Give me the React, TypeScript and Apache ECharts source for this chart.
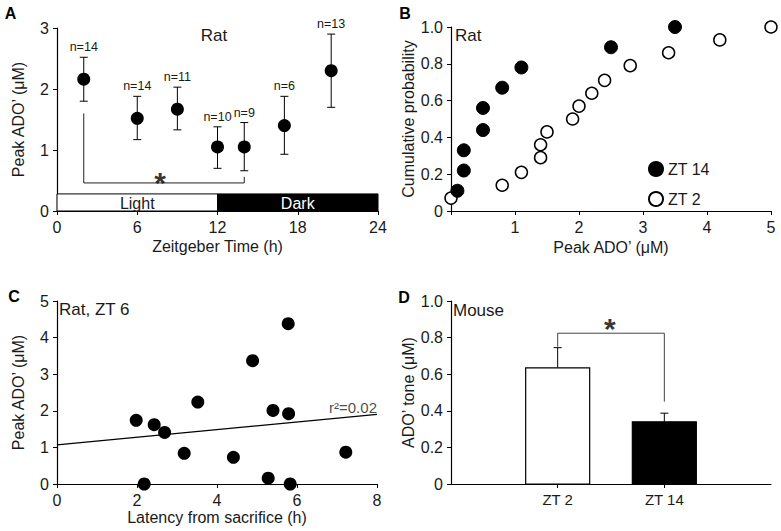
import React, { useEffect, useRef } from "react";
import * as echarts from "echarts";

// ---------- Panel A data ----------
const ztA = [2, 6, 9, 12, 14, 17, 20.5];
const peakA = [2.16, 1.52, 1.67, 1.05, 1.05, 1.4, 2.3];
const errLowA = [1.8, 1.17, 1.33, 0.7, 0.66, 0.93, 1.7];
const errHighA = [2.52, 1.88, 2.03, 1.38, 1.45, 1.88, 2.9];
const nLabelsA = ["n=14", "n=14", "n=11", "n=10", "n=9", "n=6", "n=13"];
const lightDarkStart = [0, 12];
const lightDarkEnd = [12, 24];
const lightDarkLabels = ["Light", "Dark"];
const lightDarkTop = 0.28;
const bracketA = [[2, 1.6], [2, 0.46], [14, 0.46], [14, 0.56]];
const starA = [[7.7, 0.56]];

// ---------- Panel B data ----------
const zt14X = [0.1, 0.2, 0.2, 0.5, 0.5, 0.8, 1.1, 2.5, 3.5];
const zt14Y = [0.11, 0.22, 0.33, 0.44, 0.56, 0.67, 0.78, 0.89, 1.0];
const zt2X = [0, 0.8, 1.1, 1.4, 1.4, 1.5, 1.9, 2.0, 2.2, 2.4, 2.8, 3.4, 4.2, 5.0];
const zt2Y = [0.07, 0.14, 0.21, 0.29, 0.36, 0.43, 0.5, 0.57, 0.64, 0.71, 0.79, 0.86, 0.93, 1.0];

// ---------- Panel C data ----------
const latencyC = [1.98, 2.18, 2.43, 2.69, 3.18, 3.52, 4.41, 4.89, 5.28, 5.4, 5.78, 5.79, 5.83, 7.22];
const peakC = [1.74, 0, 1.62, 1.41, 0.84, 2.24, 0.73, 3.37, 0.16, 2.01, 4.38, 1.92, 0, 0.87];
const fitC = [[0, 1.07], [8, 1.9]];
const r2Label = "r²=0.02";
const r2Pos = [[7.4, 2.1]];

// ---------- Panel D data ----------
const catsD = ["ZT 2", "ZT 14"];
const posD = [1, 2];
const meanD = [0.635, 0.34];
const semTopD = [0.745, 0.387];
const bracketD = [[1, 0.75], [1, 0.824], [2, 0.824], [2, 0.45]];
const starD = [[1.49, 0.885]];

const FONT = "'Liberation Sans', Arial, Helvetica, sans-serif";
const BLACK = "#000";
const TXT = "#1a1a1a";
const TICK_FS = 16;

function axisCommon(extra: any) {
  return {
    axisLine: { show: true, lineStyle: { color: BLACK, width: 1.2 } },
    axisTick: { show: true, length: 4, lineStyle: { color: BLACK, width: 1 } },
    splitLine: { show: false },
    axisLabel: { color: TXT, fontSize: TICK_FS, fontFamily: FONT },
    nameLocation: "middle",
    nameTextStyle: { color: TXT, fontSize: 16, fontFamily: FONT },
    ...extra,
  };
}

export default function App() {
  const ref = useRef<HTMLDivElement>(null);
  useEffect(() => {
    if (!ref.current) return;
    const chart = echarts.init(ref.current, null, { renderer: "svg" });

    const option: any = {
      animation: false,
      backgroundColor: "#fff",
      textStyle: { fontFamily: FONT },
      grid: [
        { left: 57, top: 28, width: 321, height: 183 },
        { left: 451, top: 27, width: 320, height: 184 },
        { left: 57, top: 301, width: 320, height: 183 },
        { left: 451, top: 301, width: 320, height: 183 },
      ],
      xAxis: [
        axisCommon({ gridIndex: 0, type: "value", min: 0, max: 24, interval: 6, name: "Zeitgeber Time (h)", nameGap: 27 }),
        axisCommon({
          gridIndex: 1, type: "value", min: 0, max: 5, interval: 1, name: "Peak ADO’ (μM)", nameGap: 28,
          axisLabel: { color: TXT, fontSize: TICK_FS, fontFamily: FONT, formatter: (v: number) => (v === 0 ? "" : String(v)) },
        }),
        axisCommon({ gridIndex: 2, type: "value", min: 0, max: 8, interval: 2, name: "Latency from sacrifice (h)", nameGap: 25 }),
        axisCommon({
          gridIndex: 3, type: "value", min: 0, max: 3, interval: 1,
          axisTick: { show: true, length: 4, lineStyle: { color: BLACK, width: 1 }, customValues: posD },
          axisLabel: {
            color: TXT, fontSize: 15, fontFamily: FONT, customValues: posD,
            formatter: (v: number) => { const i = posD.indexOf(v); return i >= 0 ? catsD[i] : ""; },
          },
        }),
      ],
      yAxis: [
        axisCommon({ gridIndex: 0, type: "value", min: 0, max: 3, interval: 1, name: "Peak ADO’ (μM)", nameGap: 31 }),
        axisCommon({
          gridIndex: 1, type: "value", min: 0, max: 1, interval: 0.2, name: "Cumulative probability", nameGap: 31,
          axisLabel: { color: TXT, fontSize: TICK_FS, fontFamily: FONT, formatter: (v: number) => (v === 0 ? "0" : v.toFixed(1)) },
        }),
        axisCommon({ gridIndex: 2, type: "value", min: 0, max: 5, interval: 1, name: "Peak ADO’ (μM)", nameGap: 31 }),
        axisCommon({
          gridIndex: 3, type: "value", min: 0, max: 1, interval: 0.2, name: "ADO’ tone (μM)", nameGap: 35,
          axisLabel: { color: TXT, fontSize: TICK_FS, fontFamily: FONT, formatter: (v: number) => (v === 0 ? "0" : v.toFixed(1)) },
        }),
      ],
      legend: {
        data: ["ZT 14", "ZT 2"],
        orient: "vertical",
        left: 648,
        top: 161,
        itemWidth: 14,
        itemHeight: 14,
        itemGap: 14,
        padding: 0,
        icon: "circle",
        textStyle: { color: TXT, fontSize: 16, fontFamily: FONT },
      },
      series: [
        // ----- Panel A -----
        {
          type: "custom",
          xAxisIndex: 0,
          yAxisIndex: 0,
          data: lightDarkStart.map((s, i) => [s, lightDarkEnd[i], lightDarkTop]),
          encode: { x: [0, 1], y: 2 },
          renderItem: (params: any, api: any) => {
            const p1 = api.coord([api.value(0), api.value(2)]);
            const p2 = api.coord([api.value(1), 0]);
            const dark = params.dataIndex === 1;
            return {
              type: "group",
              children: [
                {
                  type: "rect",
                  shape: { x: p1[0], y: p1[1], width: p2[0] - p1[0], height: p2[1] - p1[1] },
                  style: { fill: dark ? "#000" : "#fff", stroke: "#000", lineWidth: 1 },
                },
                {
                  type: "text",
                  x: (p1[0] + p2[0]) / 2,
                  y: (p1[1] + p2[1]) / 2 + 1,
                  style: {
                    text: lightDarkLabels[params.dataIndex],
                    align: "center",
                    verticalAlign: "middle",
                    fontSize: 16,
                    fontFamily: FONT,
                    fill: dark ? "#fff" : TXT,
                  },
                },
              ],
            };
          },
          z: 1,
        },
        {
          type: "line",
          xAxisIndex: 0,
          yAxisIndex: 0,
          data: bracketA,
          symbol: "none",
          lineStyle: { color: "#222", width: 1 },
          z: 2,
        },
        {
          type: "custom",
          xAxisIndex: 0,
          yAxisIndex: 0,
          data: ztA.map((x, i) => [x, errLowA[i], errHighA[i]]),
          encode: { x: 0, y: [1, 2] },
          renderItem: (params: any, api: any) => {
            const x = api.value(0);
            const lo = api.coord([x, api.value(1)]);
            const hi = api.coord([x, api.value(2)]);
            const c = 4;
            const st = { stroke: "#000", lineWidth: 1 };
            return {
              type: "group",
              children: [
                { type: "line", shape: { x1: lo[0], y1: lo[1], x2: hi[0], y2: hi[1] }, style: st },
                { type: "line", shape: { x1: lo[0] - c, y1: lo[1], x2: lo[0] + c, y2: lo[1] }, style: st },
                { type: "line", shape: { x1: hi[0] - c, y1: hi[1], x2: hi[0] + c, y2: hi[1] }, style: st },
                {
                  type: "text",
                  x: hi[0],
                  y: hi[1] - 10,
                  style: {
                    text: nLabelsA[params.dataIndex],
                    align: "center",
                    verticalAlign: "middle",
                    fontSize: 12.5,
                    fontFamily: FONT,
                    fill: TXT,
                  },
                },
              ],
            };
          },
          z: 3,
        },
        {
          type: "scatter",
          xAxisIndex: 0,
          yAxisIndex: 0,
          data: ztA.map((x, i) => [x, peakA[i]]),
          symbolSize: 13,
          itemStyle: { color: "#000", opacity: 1 },
          z: 4,
        },
        {
          type: "scatter",
          xAxisIndex: 0,
          yAxisIndex: 0,
          data: starA,
          symbolSize: 0,
          label: { show: true, position: "inside", formatter: "*", fontSize: 30, fontWeight: "bold", color: "#000", offset: [0, 6] },
          z: 4,
        },
        // ----- Panel B -----
        {
          name: "ZT 14",
          type: "scatter",
          xAxisIndex: 1,
          yAxisIndex: 1,
          data: zt14X.map((x, i) => [x, zt14Y[i]]),
          symbolSize: 13,
          clip: false,
          itemStyle: { color: "#000", borderColor: "#000", borderWidth: 1, opacity: 1 },
          z: 5,
        },
        {
          name: "ZT 2",
          type: "scatter",
          xAxisIndex: 1,
          yAxisIndex: 1,
          data: zt2X.map((x, i) => [x, zt2Y[i]]),
          symbolSize: 12,
          clip: false,
          itemStyle: { color: "#fff", borderColor: "#000", borderWidth: 1.5, opacity: 1 },
          z: 4,
        },
        // ----- Panel C -----
        {
          type: "line",
          xAxisIndex: 2,
          yAxisIndex: 2,
          data: fitC,
          symbol: "none",
          lineStyle: { color: "#000", width: 1.2 },
          z: 2,
        },
        {
          type: "scatter",
          xAxisIndex: 2,
          yAxisIndex: 2,
          data: latencyC.map((x, i) => [x, peakC[i]]),
          symbolSize: 13,
          clip: false,
          itemStyle: { color: "#000", opacity: 1 },
          z: 4,
        },
        {
          type: "scatter",
          xAxisIndex: 2,
          yAxisIndex: 2,
          data: r2Pos,
          symbolSize: 0,
          label: { show: true, position: "inside", formatter: r2Label, fontSize: 15, color: TXT, fontFamily: FONT },
          z: 4,
        },
        // ----- Panel D -----
        {
          type: "custom",
          xAxisIndex: 3,
          yAxisIndex: 3,
          data: posD.map((x, i) => [x, meanD[i], semTopD[i]]),
          encode: { x: 0, y: [1, 2] },
          renderItem: (params: any, api: any) => {
            const x = api.value(0);
            const top = api.coord([x - 0.3, api.value(1)]);
            const bot = api.coord([x + 0.3, 0]);
            const mid = api.coord([x, api.value(1)]);
            const err = api.coord([x, api.value(2)]);
            const filled = params.dataIndex === 1;
            const c = 4;
            const st = { stroke: "#000", lineWidth: 1 };
            return {
              type: "group",
              children: [
                { type: "line", shape: { x1: mid[0], y1: mid[1], x2: err[0], y2: err[1] }, style: st },
                { type: "line", shape: { x1: err[0] - c, y1: err[1], x2: err[0] + c, y2: err[1] }, style: st },
                {
                  type: "rect",
                  shape: { x: top[0], y: top[1], width: bot[0] - top[0], height: bot[1] - top[1] },
                  style: { fill: filled ? "#000" : "#fff", stroke: "#000", lineWidth: 1.2 },
                },
              ],
            };
          },
          z: 3,
        },
        {
          type: "line",
          xAxisIndex: 3,
          yAxisIndex: 3,
          data: bracketD,
          symbol: "none",
          lineStyle: { color: "#444", width: 1 },
          z: 2,
        },
        {
          type: "scatter",
          xAxisIndex: 3,
          yAxisIndex: 3,
          data: starD,
          symbolSize: 0,
          label: { show: true, position: "inside", formatter: "*", fontSize: 30, fontWeight: "bold", color: "#000", offset: [0, 6] },
          z: 4,
        },
      ],
      graphic: [
        { type: "text", x: 10.5, y: 13, style: { text: "A", align: "center", verticalAlign: "middle", fontSize: 16, fontWeight: "bold", fontFamily: FONT, fill: "#000" } },
        { type: "text", x: 405, y: 13, style: { text: "B", align: "center", verticalAlign: "middle", fontSize: 16, fontWeight: "bold", fontFamily: FONT, fill: "#000" } },
        { type: "text", x: 14, y: 296, style: { text: "C", align: "center", verticalAlign: "middle", fontSize: 16, fontWeight: "bold", fontFamily: FONT, fill: "#000" } },
        { type: "text", x: 404, y: 297, style: { text: "D", align: "center", verticalAlign: "middle", fontSize: 16, fontWeight: "bold", fontFamily: FONT, fill: "#000" } },
        { type: "text", x: 214, y: 35, style: { text: "Rat", align: "center", verticalAlign: "middle", fontSize: 17, fontFamily: FONT, fill: TXT } },
        { type: "text", x: 455, y: 35, style: { text: "Rat", align: "left", verticalAlign: "middle", fontSize: 17, fontFamily: FONT, fill: TXT } },
        { type: "text", x: 59, y: 309, style: { text: "Rat, ZT 6", align: "left", verticalAlign: "middle", fontSize: 17, fontFamily: FONT, fill: TXT } },
        { type: "text", x: 453, y: 310, style: { text: "Mouse", align: "left", verticalAlign: "middle", fontSize: 17, fontFamily: FONT, fill: TXT } },
      ],
    };

    chart.setOption(option);
    return () => chart.dispose();
  }, []);

  return (
    <div
      ref={ref}
      style={{ position: "absolute", left: 0, top: 0, width: 781, height: 531, background: "#fff" }}
    />
  );
}
